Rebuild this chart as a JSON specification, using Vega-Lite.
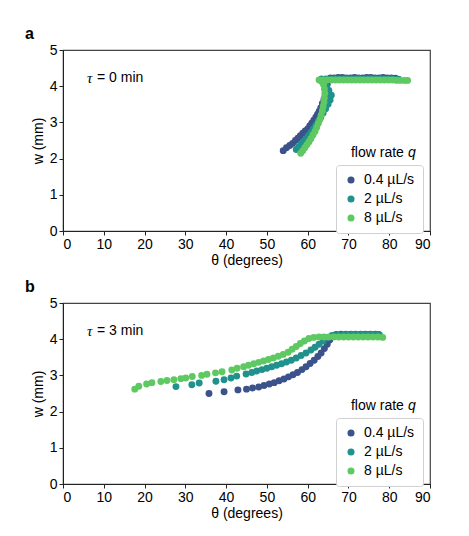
{
  "$schema": "https://vega.github.io/schema/vega-lite/v6.json",
  "padding": {"left": 24, "top": 25, "right": 5, "bottom": 5},
  "config": {
    "font": "Liberation Sans",
    "view": {"stroke": "#444", "strokeWidth": 1.2},
    "axis": {"grid": false, "labelFontSize": 14, "titleFontSize": 14, "titleFontWeight": "normal", "labelColor": "#000", "titleColor": "#000", "domainColor": "#222", "tickColor": "#222", "tickSize": 4, "labelPadding": 2, "labelOverlap": false},
    "axisY": {"titlePadding": 4},
    "axisX": {"titlePadding": 2},
    "title": {"fontSize": 16, "fontWeight": "bold", "anchor": "start", "frame": "group", "dx": -38, "offset": 1},
    "legend": {"labelFontSize": 14, "symbolSize": 50, "strokeColor": "#d0d0d0", "cornerRadius": 3, "fillColor": "white", "padding": 8, "rowPadding": 5, "labelOffset": 6, "labelLimit": 200, "symbolOpacity": 1}
  },
  "datasets": {
    "pts": [
      {"p": "a", "q": "0.4 µL/s", "t": 54.0, "w": 2.22}, {"p": "a", "q": "0.4 µL/s", "t": 54.8, "w": 2.3}, {"p": "a", "q": "0.4 µL/s", "t": 55.6, "w": 2.36}, {"p": "a", "q": "0.4 µL/s", "t": 56.3, "w": 2.42}, {"p": "a", "q": "0.4 µL/s", "t": 57.0, "w": 2.5}, {"p": "a", "q": "0.4 µL/s", "t": 57.6, "w": 2.56}, {"p": "a", "q": "0.4 µL/s", "t": 58.2, "w": 2.63}, {"p": "a", "q": "0.4 µL/s", "t": 58.8, "w": 2.7}, {"p": "a", "q": "0.4 µL/s", "t": 59.4, "w": 2.76}, {"p": "a", "q": "0.4 µL/s", "t": 60.0, "w": 2.82}, {"p": "a", "q": "0.4 µL/s", "t": 60.5, "w": 2.9}, {"p": "a", "q": "0.4 µL/s", "t": 61.0, "w": 2.98}, {"p": "a", "q": "0.4 µL/s", "t": 61.5, "w": 3.06}, {"p": "a", "q": "0.4 µL/s", "t": 62.0, "w": 3.14}, {"p": "a", "q": "0.4 µL/s", "t": 62.4, "w": 3.22}, {"p": "a", "q": "0.4 µL/s", "t": 62.8, "w": 3.3}, {"p": "a", "q": "0.4 µL/s", "t": 63.2, "w": 3.4}, {"p": "a", "q": "0.4 µL/s", "t": 63.6, "w": 3.52}, {"p": "a", "q": "0.4 µL/s", "t": 64.0, "w": 3.64}, {"p": "a", "q": "0.4 µL/s", "t": 64.4, "w": 3.76}, {"p": "a", "q": "0.4 µL/s", "t": 64.6, "w": 3.9}, {"p": "a", "q": "0.4 µL/s", "t": 64.8, "w": 4.05}, {"p": "a", "q": "0.4 µL/s", "t": 65.0, "w": 4.18}, {"p": "a", "q": "0.4 µL/s", "t": 65.6, "w": 4.23}, {"p": "a", "q": "0.4 µL/s", "t": 66.5, "w": 4.23}, {"p": "a", "q": "0.4 µL/s", "t": 67.5, "w": 4.24}, {"p": "a", "q": "0.4 µL/s", "t": 68.5, "w": 4.24}, {"p": "a", "q": "0.4 µL/s", "t": 69.5, "w": 4.23}, {"p": "a", "q": "0.4 µL/s", "t": 70.5, "w": 4.23}, {"p": "a", "q": "0.4 µL/s", "t": 71.5, "w": 4.24}, {"p": "a", "q": "0.4 µL/s", "t": 72.5, "w": 4.23}, {"p": "a", "q": "0.4 µL/s", "t": 73.5, "w": 4.23}, {"p": "a", "q": "0.4 µL/s", "t": 74.5, "w": 4.24}, {"p": "a", "q": "0.4 µL/s", "t": 75.5, "w": 4.24}, {"p": "a", "q": "0.4 µL/s", "t": 76.5, "w": 4.23}, {"p": "a", "q": "0.4 µL/s", "t": 77.5, "w": 4.23}, {"p": "a", "q": "0.4 µL/s", "t": 78.5, "w": 4.24}, {"p": "a", "q": "0.4 µL/s", "t": 79.5, "w": 4.23}, {"p": "a", "q": "0.4 µL/s", "t": 80.5, "w": 4.23}, {"p": "a", "q": "0.4 µL/s", "t": 81.5, "w": 4.22},
      {"p": "a", "q": "2 µL/s", "t": 57.2, "w": 2.25}, {"p": "a", "q": "2 µL/s", "t": 57.8, "w": 2.32}, {"p": "a", "q": "2 µL/s", "t": 58.4, "w": 2.4}, {"p": "a", "q": "2 µL/s", "t": 59.0, "w": 2.47}, {"p": "a", "q": "2 µL/s", "t": 59.6, "w": 2.55}, {"p": "a", "q": "2 µL/s", "t": 60.2, "w": 2.63}, {"p": "a", "q": "2 µL/s", "t": 60.8, "w": 2.72}, {"p": "a", "q": "2 µL/s", "t": 61.4, "w": 2.82}, {"p": "a", "q": "2 µL/s", "t": 62.0, "w": 2.92}, {"p": "a", "q": "2 µL/s", "t": 62.6, "w": 3.03}, {"p": "a", "q": "2 µL/s", "t": 63.2, "w": 3.14}, {"p": "a", "q": "2 µL/s", "t": 63.8, "w": 3.26}, {"p": "a", "q": "2 µL/s", "t": 64.4, "w": 3.38}, {"p": "a", "q": "2 µL/s", "t": 65.0, "w": 3.5}, {"p": "a", "q": "2 µL/s", "t": 65.5, "w": 3.62}, {"p": "a", "q": "2 µL/s", "t": 65.8, "w": 3.75}, {"p": "a", "q": "2 µL/s", "t": 65.2, "w": 3.88}, {"p": "a", "q": "2 µL/s", "t": 64.6, "w": 4.0}, {"p": "a", "q": "2 µL/s", "t": 64.0, "w": 4.12}, {"p": "a", "q": "2 µL/s", "t": 63.4, "w": 4.2}, {"p": "a", "q": "2 µL/s", "t": 64.5, "w": 4.2}, {"p": "a", "q": "2 µL/s", "t": 65.5, "w": 4.2}, {"p": "a", "q": "2 µL/s", "t": 66.5, "w": 4.21}, {"p": "a", "q": "2 µL/s", "t": 67.5, "w": 4.2}, {"p": "a", "q": "2 µL/s", "t": 68.5, "w": 4.2}, {"p": "a", "q": "2 µL/s", "t": 69.5, "w": 4.21}, {"p": "a", "q": "2 µL/s", "t": 70.5, "w": 4.2}, {"p": "a", "q": "2 µL/s", "t": 71.5, "w": 4.2}, {"p": "a", "q": "2 µL/s", "t": 72.5, "w": 4.21}, {"p": "a", "q": "2 µL/s", "t": 73.5, "w": 4.2}, {"p": "a", "q": "2 µL/s", "t": 74.5, "w": 4.2}, {"p": "a", "q": "2 µL/s", "t": 75.5, "w": 4.21}, {"p": "a", "q": "2 µL/s", "t": 76.5, "w": 4.2}, {"p": "a", "q": "2 µL/s", "t": 77.5, "w": 4.2}, {"p": "a", "q": "2 µL/s", "t": 78.5, "w": 4.2}, {"p": "a", "q": "2 µL/s", "t": 79.5, "w": 4.2}, {"p": "a", "q": "2 µL/s", "t": 80.5, "w": 4.2}, {"p": "a", "q": "2 µL/s", "t": 81.5, "w": 4.19}, {"p": "a", "q": "2 µL/s", "t": 82.3, "w": 4.19},
      {"p": "a", "q": "8 µL/s", "t": 58.3, "w": 2.15}, {"p": "a", "q": "8 µL/s", "t": 58.8, "w": 2.22}, {"p": "a", "q": "8 µL/s", "t": 59.3, "w": 2.3}, {"p": "a", "q": "8 µL/s", "t": 59.8, "w": 2.38}, {"p": "a", "q": "8 µL/s", "t": 60.3, "w": 2.46}, {"p": "a", "q": "8 µL/s", "t": 60.8, "w": 2.55}, {"p": "a", "q": "8 µL/s", "t": 61.3, "w": 2.65}, {"p": "a", "q": "8 µL/s", "t": 61.8, "w": 2.75}, {"p": "a", "q": "8 µL/s", "t": 62.2, "w": 2.86}, {"p": "a", "q": "8 µL/s", "t": 62.6, "w": 2.97}, {"p": "a", "q": "8 µL/s", "t": 63.0, "w": 3.08}, {"p": "a", "q": "8 µL/s", "t": 63.3, "w": 3.2}, {"p": "a", "q": "8 µL/s", "t": 63.6, "w": 3.32}, {"p": "a", "q": "8 µL/s", "t": 63.8, "w": 3.44}, {"p": "a", "q": "8 µL/s", "t": 64.0, "w": 3.56}, {"p": "a", "q": "8 µL/s", "t": 64.1, "w": 3.68}, {"p": "a", "q": "8 µL/s", "t": 64.2, "w": 3.8}, {"p": "a", "q": "8 µL/s", "t": 64.1, "w": 3.92}, {"p": "a", "q": "8 µL/s", "t": 63.9, "w": 4.04}, {"p": "a", "q": "8 µL/s", "t": 63.5, "w": 4.12}, {"p": "a", "q": "8 µL/s", "t": 62.8, "w": 4.17}, {"p": "a", "q": "8 µL/s", "t": 63.8, "w": 4.17}, {"p": "a", "q": "8 µL/s", "t": 64.8, "w": 4.17}, {"p": "a", "q": "8 µL/s", "t": 65.8, "w": 4.17}, {"p": "a", "q": "8 µL/s", "t": 66.8, "w": 4.17}, {"p": "a", "q": "8 µL/s", "t": 67.8, "w": 4.17}, {"p": "a", "q": "8 µL/s", "t": 68.8, "w": 4.17}, {"p": "a", "q": "8 µL/s", "t": 69.8, "w": 4.17}, {"p": "a", "q": "8 µL/s", "t": 70.8, "w": 4.17}, {"p": "a", "q": "8 µL/s", "t": 71.8, "w": 4.17}, {"p": "a", "q": "8 µL/s", "t": 72.8, "w": 4.17}, {"p": "a", "q": "8 µL/s", "t": 73.8, "w": 4.17}, {"p": "a", "q": "8 µL/s", "t": 74.8, "w": 4.17}, {"p": "a", "q": "8 µL/s", "t": 75.8, "w": 4.17}, {"p": "a", "q": "8 µL/s", "t": 76.8, "w": 4.17}, {"p": "a", "q": "8 µL/s", "t": 77.8, "w": 4.17}, {"p": "a", "q": "8 µL/s", "t": 78.8, "w": 4.17}, {"p": "a", "q": "8 µL/s", "t": 79.8, "w": 4.17}, {"p": "a", "q": "8 µL/s", "t": 80.8, "w": 4.17}, {"p": "a", "q": "8 µL/s", "t": 81.8, "w": 4.16}, {"p": "a", "q": "8 µL/s", "t": 82.8, "w": 4.16}, {"p": "a", "q": "8 µL/s", "t": 83.8, "w": 4.16}, {"p": "a", "q": "8 µL/s", "t": 84.5, "w": 4.16},
      {"p": "b", "q": "0.4 µL/s", "t": 35.8, "w": 2.5}, {"p": "b", "q": "0.4 µL/s", "t": 39.5, "w": 2.55}, {"p": "b", "q": "0.4 µL/s", "t": 42.9, "w": 2.6}, {"p": "b", "q": "0.4 µL/s", "t": 45.0, "w": 2.62}, {"p": "b", "q": "0.4 µL/s", "t": 46.5, "w": 2.65}, {"p": "b", "q": "0.4 µL/s", "t": 48.0, "w": 2.68}, {"p": "b", "q": "0.4 µL/s", "t": 49.3, "w": 2.72}, {"p": "b", "q": "0.4 µL/s", "t": 50.6, "w": 2.76}, {"p": "b", "q": "0.4 µL/s", "t": 51.8, "w": 2.8}, {"p": "b", "q": "0.4 µL/s", "t": 53.0, "w": 2.85}, {"p": "b", "q": "0.4 µL/s", "t": 54.2, "w": 2.9}, {"p": "b", "q": "0.4 µL/s", "t": 55.3, "w": 2.96}, {"p": "b", "q": "0.4 µL/s", "t": 56.4, "w": 3.02}, {"p": "b", "q": "0.4 µL/s", "t": 57.5, "w": 3.08}, {"p": "b", "q": "0.4 µL/s", "t": 58.6, "w": 3.16}, {"p": "b", "q": "0.4 µL/s", "t": 59.6, "w": 3.24}, {"p": "b", "q": "0.4 µL/s", "t": 60.6, "w": 3.33}, {"p": "b", "q": "0.4 µL/s", "t": 61.6, "w": 3.42}, {"p": "b", "q": "0.4 µL/s", "t": 62.5, "w": 3.52}, {"p": "b", "q": "0.4 µL/s", "t": 63.3, "w": 3.62}, {"p": "b", "q": "0.4 µL/s", "t": 64.1, "w": 3.74}, {"p": "b", "q": "0.4 µL/s", "t": 64.8, "w": 3.86}, {"p": "b", "q": "0.4 µL/s", "t": 65.4, "w": 3.98}, {"p": "b", "q": "0.4 µL/s", "t": 66.0, "w": 4.08}, {"p": "b", "q": "0.4 µL/s", "t": 67.0, "w": 4.13}, {"p": "b", "q": "0.4 µL/s", "t": 68.2, "w": 4.14}, {"p": "b", "q": "0.4 µL/s", "t": 69.4, "w": 4.14}, {"p": "b", "q": "0.4 µL/s", "t": 70.6, "w": 4.14}, {"p": "b", "q": "0.4 µL/s", "t": 71.8, "w": 4.14}, {"p": "b", "q": "0.4 µL/s", "t": 73.0, "w": 4.14}, {"p": "b", "q": "0.4 µL/s", "t": 74.2, "w": 4.14}, {"p": "b", "q": "0.4 µL/s", "t": 75.4, "w": 4.14}, {"p": "b", "q": "0.4 µL/s", "t": 76.6, "w": 4.14}, {"p": "b", "q": "0.4 µL/s", "t": 77.4, "w": 4.13},
      {"p": "b", "q": "2 µL/s", "t": 27.7, "w": 2.69}, {"p": "b", "q": "2 µL/s", "t": 31.6, "w": 2.74}, {"p": "b", "q": "2 µL/s", "t": 33.4, "w": 2.79}, {"p": "b", "q": "2 µL/s", "t": 37.5, "w": 2.84}, {"p": "b", "q": "2 µL/s", "t": 39.5, "w": 2.88}, {"p": "b", "q": "2 µL/s", "t": 41.2, "w": 2.93}, {"p": "b", "q": "2 µL/s", "t": 42.6, "w": 2.98}, {"p": "b", "q": "2 µL/s", "t": 44.9, "w": 3.04}, {"p": "b", "q": "2 µL/s", "t": 46.3, "w": 3.08}, {"p": "b", "q": "2 µL/s", "t": 47.5, "w": 3.12}, {"p": "b", "q": "2 µL/s", "t": 48.8, "w": 3.16}, {"p": "b", "q": "2 µL/s", "t": 50.0, "w": 3.2}, {"p": "b", "q": "2 µL/s", "t": 51.2, "w": 3.24}, {"p": "b", "q": "2 µL/s", "t": 52.4, "w": 3.28}, {"p": "b", "q": "2 µL/s", "t": 53.6, "w": 3.32}, {"p": "b", "q": "2 µL/s", "t": 54.8, "w": 3.37}, {"p": "b", "q": "2 µL/s", "t": 56.0, "w": 3.42}, {"p": "b", "q": "2 µL/s", "t": 57.2, "w": 3.48}, {"p": "b", "q": "2 µL/s", "t": 58.4, "w": 3.55}, {"p": "b", "q": "2 µL/s", "t": 59.6, "w": 3.62}, {"p": "b", "q": "2 µL/s", "t": 60.8, "w": 3.7}, {"p": "b", "q": "2 µL/s", "t": 61.8, "w": 3.78}, {"p": "b", "q": "2 µL/s", "t": 62.8, "w": 3.86}, {"p": "b", "q": "2 µL/s", "t": 63.8, "w": 3.95}, {"p": "b", "q": "2 µL/s", "t": 64.8, "w": 4.05}, {"p": "b", "q": "2 µL/s", "t": 66.0, "w": 4.1}, {"p": "b", "q": "2 µL/s", "t": 67.2, "w": 4.12}, {"p": "b", "q": "2 µL/s", "t": 68.4, "w": 4.12}, {"p": "b", "q": "2 µL/s", "t": 69.6, "w": 4.13}, {"p": "b", "q": "2 µL/s", "t": 70.8, "w": 4.13}, {"p": "b", "q": "2 µL/s", "t": 72.0, "w": 4.13}, {"p": "b", "q": "2 µL/s", "t": 73.2, "w": 4.13}, {"p": "b", "q": "2 µL/s", "t": 74.4, "w": 4.13}, {"p": "b", "q": "2 µL/s", "t": 75.6, "w": 4.13}, {"p": "b", "q": "2 µL/s", "t": 76.8, "w": 4.13}, {"p": "b", "q": "2 µL/s", "t": 77.6, "w": 4.12},
      {"p": "b", "q": "8 µL/s", "t": 17.6, "w": 2.62}, {"p": "b", "q": "8 µL/s", "t": 18.6, "w": 2.7}, {"p": "b", "q": "8 µL/s", "t": 20.5, "w": 2.76}, {"p": "b", "q": "8 µL/s", "t": 21.8, "w": 2.8}, {"p": "b", "q": "8 µL/s", "t": 24.0, "w": 2.83}, {"p": "b", "q": "8 µL/s", "t": 25.5, "w": 2.86}, {"p": "b", "q": "8 µL/s", "t": 27.2, "w": 2.88}, {"p": "b", "q": "8 µL/s", "t": 28.9, "w": 2.91}, {"p": "b", "q": "8 µL/s", "t": 30.1, "w": 2.93}, {"p": "b", "q": "8 µL/s", "t": 31.7, "w": 2.97}, {"p": "b", "q": "8 µL/s", "t": 34.0, "w": 3.0}, {"p": "b", "q": "8 µL/s", "t": 35.3, "w": 3.03}, {"p": "b", "q": "8 µL/s", "t": 37.4, "w": 3.07}, {"p": "b", "q": "8 µL/s", "t": 39.0, "w": 3.1}, {"p": "b", "q": "8 µL/s", "t": 41.4, "w": 3.15}, {"p": "b", "q": "8 µL/s", "t": 42.7, "w": 3.2}, {"p": "b", "q": "8 µL/s", "t": 44.3, "w": 3.24}, {"p": "b", "q": "8 µL/s", "t": 45.5, "w": 3.28}, {"p": "b", "q": "8 µL/s", "t": 46.8, "w": 3.32}, {"p": "b", "q": "8 µL/s", "t": 48.0, "w": 3.36}, {"p": "b", "q": "8 µL/s", "t": 49.2, "w": 3.4}, {"p": "b", "q": "8 µL/s", "t": 50.4, "w": 3.44}, {"p": "b", "q": "8 µL/s", "t": 51.6, "w": 3.48}, {"p": "b", "q": "8 µL/s", "t": 52.8, "w": 3.53}, {"p": "b", "q": "8 µL/s", "t": 54.0, "w": 3.58}, {"p": "b", "q": "8 µL/s", "t": 55.2, "w": 3.64}, {"p": "b", "q": "8 µL/s", "t": 56.2, "w": 3.72}, {"p": "b", "q": "8 µL/s", "t": 57.2, "w": 3.8}, {"p": "b", "q": "8 µL/s", "t": 58.2, "w": 3.88}, {"p": "b", "q": "8 µL/s", "t": 59.2, "w": 3.95}, {"p": "b", "q": "8 µL/s", "t": 60.3, "w": 4.02}, {"p": "b", "q": "8 µL/s", "t": 61.5, "w": 4.05}, {"p": "b", "q": "8 µL/s", "t": 62.8, "w": 4.06}, {"p": "b", "q": "8 µL/s", "t": 64.0, "w": 4.06}, {"p": "b", "q": "8 µL/s", "t": 65.2, "w": 4.06}, {"p": "b", "q": "8 µL/s", "t": 66.4, "w": 4.06}, {"p": "b", "q": "8 µL/s", "t": 67.6, "w": 4.06}, {"p": "b", "q": "8 µL/s", "t": 68.8, "w": 4.06}, {"p": "b", "q": "8 µL/s", "t": 70.0, "w": 4.06}, {"p": "b", "q": "8 µL/s", "t": 71.2, "w": 4.06}, {"p": "b", "q": "8 µL/s", "t": 72.4, "w": 4.06}, {"p": "b", "q": "8 µL/s", "t": 73.6, "w": 4.06}, {"p": "b", "q": "8 µL/s", "t": 74.8, "w": 4.06}, {"p": "b", "q": "8 µL/s", "t": 76.0, "w": 4.06}, {"p": "b", "q": "8 µL/s", "t": 77.2, "w": 4.06}, {"p": "b", "q": "8 µL/s", "t": 78.4, "w": 4.05}
    ],
    "notes": [
      {"p": "a", "k": "sym", "txt": "τ", "t": 5.9, "w": 4.22},
      {"p": "a", "k": "rest", "txt": "= 0 min", "t": 5.9, "w": 4.22},
      {"p": "a", "k": "l1", "txt": "flow rate", "t": 78.2, "w": 2.15},
      {"p": "a", "k": "l2", "txt": "q", "t": 78.2, "w": 2.15},
      {"p": "b", "k": "sym", "txt": "τ", "t": 5.9, "w": 4.22},
      {"p": "b", "k": "rest", "txt": "= 3 min", "t": 5.9, "w": 4.22},
      {"p": "b", "k": "l1", "txt": "flow rate", "t": 78.2, "w": 2.15},
      {"p": "b", "k": "l2", "txt": "q", "t": 78.2, "w": 2.15}
    ]
  },
  "vconcat": [
    {
      "title": "a",
      "width": 367, "height": 181,
      "encoding": {
        "x": {"field": "t", "type": "quantitative", "scale": {"domain": [0, 90]}, "axis": {"values": [0,10,20,30,40,50,60,70,80,90], "title": "θ (degrees)", "labelOverlap": false}},
        "y": {"field": "w", "type": "quantitative", "scale": {"domain": [0, 5]}, "axis": {"values": [0,1,2,3,4,5], "title": "w (mm)", "labelOverlap": false}}
      },
      "layer": [
        {
          "data": {"name": "pts"},
          "transform": [{"filter": "datum.p === 'a'"}],
          "mark": {"type": "point", "filled": true, "opacity": 1, "size": 48},
          "encoding": {
            "color": {"field": "q", "type": "nominal", "scale": {"domain": ["0.4 µL/s", "2 µL/s", "8 µL/s"], "range": ["#3b528b", "#21918c", "#5ec962"]},
              "legend": {"title": null, "orient": "none", "legendX": 273, "legendY": 115}}
          }
        },
        {
          "data": {"name": "notes"},
          "transform": [{"filter": "datum.p === 'a' && datum.k === 'sym'"}],
          "mark": {"type": "text", "align": "left", "baseline": "middle", "fontSize": 15, "fontStyle": "italic", "font": "Liberation Serif"},
          "encoding": {"text": {"field": "txt"}}
        },
        {
          "data": {"name": "notes"},
          "transform": [{"filter": "datum.p === 'a' && datum.k === 'rest'"}],
          "mark": {"type": "text", "align": "left", "baseline": "middle", "fontSize": 14, "dx": 10},
          "encoding": {"text": {"field": "txt"}}
        },
        {
          "data": {"name": "notes"},
          "transform": [{"filter": "datum.p === 'a' && datum.k === 'l1'"}],
          "mark": {"type": "text", "align": "right", "baseline": "middle", "fontSize": 14, "dx": 22},
          "encoding": {"text": {"field": "txt"}}
        },
        {
          "data": {"name": "notes"},
          "transform": [{"filter": "datum.p === 'a' && datum.k === 'l2'"}],
          "mark": {"type": "text", "align": "left", "baseline": "middle", "fontSize": 14, "dx": 26, "fontStyle": "italic"},
          "encoding": {"text": {"field": "txt"}}
        }
      ]
    },
    {
      "title": "b",
      "width": 367, "height": 181,
      "encoding": {
        "x": {"field": "t", "type": "quantitative", "scale": {"domain": [0, 90]}, "axis": {"values": [0,10,20,30,40,50,60,70,80,90], "title": "θ (degrees)", "labelOverlap": false}},
        "y": {"field": "w", "type": "quantitative", "scale": {"domain": [0, 5]}, "axis": {"values": [0,1,2,3,4,5], "title": "w (mm)", "labelOverlap": false}}
      },
      "layer": [
        {
          "data": {"name": "pts"},
          "transform": [{"filter": "datum.p === 'b'"}],
          "mark": {"type": "point", "filled": true, "opacity": 1, "size": 48},
          "encoding": {
            "color": {"field": "q", "type": "nominal", "scale": {"domain": ["0.4 µL/s", "2 µL/s", "8 µL/s"], "range": ["#3b528b", "#21918c", "#5ec962"]},
              "legend": {"title": null, "orient": "none", "legendX": 273, "legendY": 115}}
          }
        },
        {
          "data": {"name": "notes"},
          "transform": [{"filter": "datum.p === 'b' && datum.k === 'sym'"}],
          "mark": {"type": "text", "align": "left", "baseline": "middle", "fontSize": 15, "fontStyle": "italic", "font": "Liberation Serif"},
          "encoding": {"text": {"field": "txt"}}
        },
        {
          "data": {"name": "notes"},
          "transform": [{"filter": "datum.p === 'b' && datum.k === 'rest'"}],
          "mark": {"type": "text", "align": "left", "baseline": "middle", "fontSize": 14, "dx": 10},
          "encoding": {"text": {"field": "txt"}}
        },
        {
          "data": {"name": "notes"},
          "transform": [{"filter": "datum.p === 'b' && datum.k === 'l1'"}],
          "mark": {"type": "text", "align": "right", "baseline": "middle", "fontSize": 14, "dx": 22},
          "encoding": {"text": {"field": "txt"}}
        },
        {
          "data": {"name": "notes"},
          "transform": [{"filter": "datum.p === 'b' && datum.k === 'l2'"}],
          "mark": {"type": "text", "align": "left", "baseline": "middle", "fontSize": 14, "dx": 26, "fontStyle": "italic"},
          "encoding": {"text": {"field": "txt"}}
        }
      ]
    }
  ],
  "spacing": 10,
  "resolve": {"legend": {"color": "independent"}}
}
